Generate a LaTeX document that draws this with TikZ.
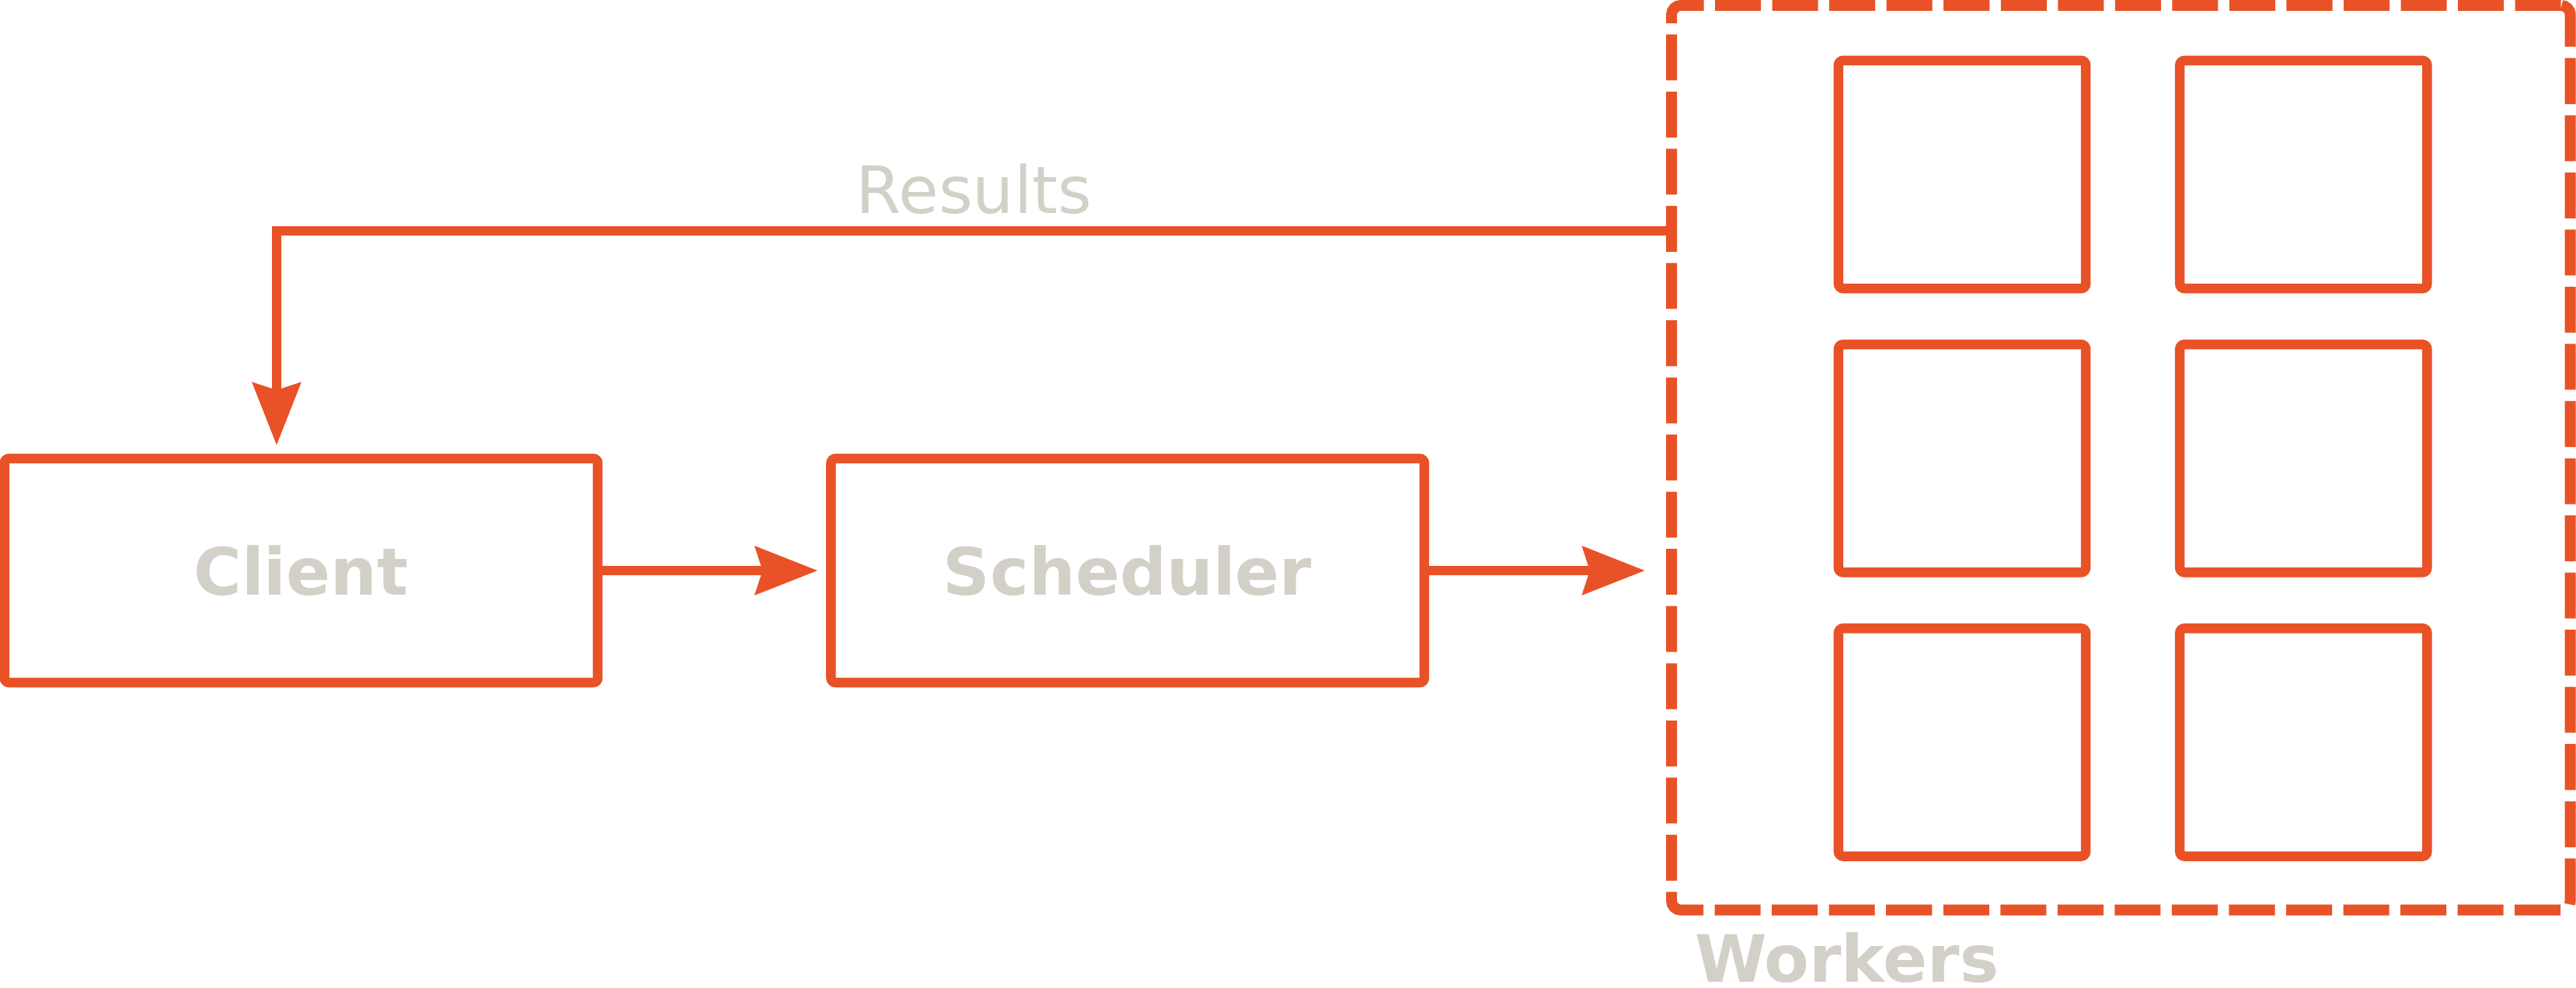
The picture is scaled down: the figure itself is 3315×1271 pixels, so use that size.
\documentclass[tikz,border=0pt]{standalone}
\usepackage{fontspec}
\setmainfont{DejaVu Sans}
\usetikzlibrary{arrows.meta, positioning}
\definecolor{boxorange}{HTML}{E85226}
\definecolor{labelgray}{HTML}{D3D0C8}

\begin{document}
\begin{tikzpicture}[
    x=0.01cm, y=-0.01cm,
    every node/.style={outer sep=0pt},
    stage/.style={
        draw=boxorange,
        line width=0.125cm,
        rounded corners=0.06cm,
        minimum width=7.63cm,
        minimum height=2.88cm,
        text=labelgray,
        font=\bfseries\fontsize{23.9}{28}\selectfont},
    worker/.style={
        draw=boxorange,
        line width=0.125cm,
        rounded corners=0.06cm,
        minimum width=3.18cm,
        minimum height=2.93cm},
    pool/.style={
        draw=boxorange,
        line width=0.14cm,
        dash pattern=on 0.59cm off 0.145cm,
        rounded corners=0.12cm,
        minimum width=11.56cm,
        minimum height=11.63cm},
    caption/.style={
        text=labelgray,
        inner sep=0pt,
        font=\fontsize{23.9}{28}\selectfont},
    link/.style={
        draw=boxorange,
        line width=0.125cm,
        -{Stealth[length=0.8cm, width=0.61cm, inset=0.09cm]}}]
    \useasboundingbox (0,0) rectangle (3315,1271);

    \node[stage] (client) at (387.5,734) {Client};
    \node[stage, right=3cm of client] (scheduler) {Scheduler};

    % pool of workers
    \node[pool, anchor=north west] (workers) at (2151,7) {};
    \node[worker] (w11) at (2525,224.5) {};
    \node[worker, right=1.21cm of w11] (w12) {};
    \node[worker, below=0.72cm of w11] (w21) {};
    \node[worker, right=1.21cm of w21] (w22) {};
    \node[worker, below=0.72cm of w21] (w31) {};
    \node[worker, right=1.21cm of w31] (w32) {};
    \node[caption, font=\bfseries\fontsize{23.9}{28}\selectfont, anchor=base west]
        (workerslabel) at ([xshift=0.3cm, yshift=-0.93cm]workers.south west) {Workers};

    \draw[link, shorten >=0.17cm] (client) -- (scheduler);
    \draw[link, shorten >=0.34cm] (scheduler.east) -- (scheduler.east -| workers.west);

    \coordinate (resfrom) at ([yshift=-2.9cm]workers.north west);
    \draw[link] (resfrom) -| ([xshift=-0.315cm, yshift=0.17cm]client.north)
        node[caption, pos=0.25, above=0.21cm] (results) {Results};
\end{tikzpicture}
\end{document}
